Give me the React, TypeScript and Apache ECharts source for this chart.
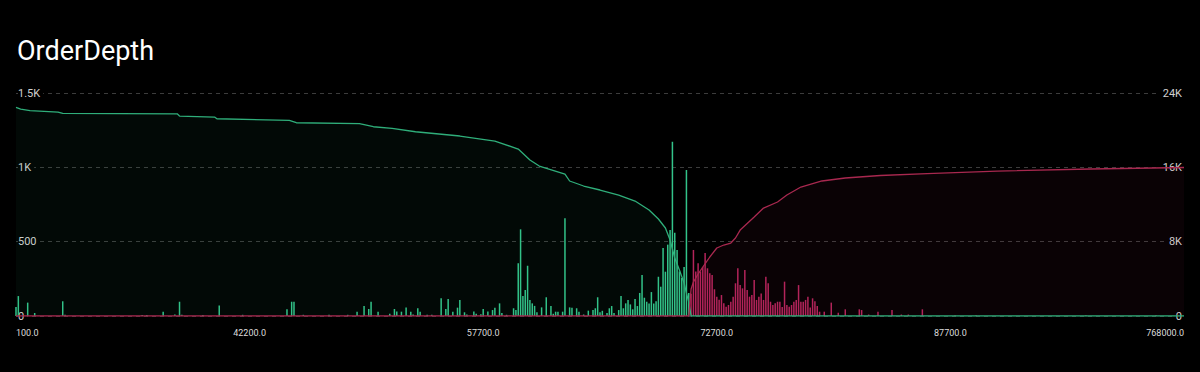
import React, { useEffect, useRef } from "react";
import * as echarts from "echarts";

// Price levels shown as axis ticks (every 100th level)
const tickPrices = [100, 42200, 57700, 72700, 87700, 768000];
const levelsPerTick = 100;

// Bid volumes: [level index, volume]
const bidBars: [number, number][] = [
  [0, 60], [1, 134], [5, 90], [8, 20], [20, 99], [21, 8], [54, 6], [56, 6], [63, 29], [68, 10],
  [70, 96], [71, 8], [80, 6], [87, 70], [97, 8], [116, 45], [118, 96], [119, 96], [123, 8], [134, 8],
  [142, 8], [146, 29], [149, 67], [151, 47], [152, 96], [155, 29], [160, 15], [162, 47], [163, 30],
  [165, 29], [167, 58], [169, 29], [170, 10], [172, 52], [173, 29], [176, 8], [178, 8], [182, 119],
  [184, 47], [185, 114], [187, 29], [189, 56], [190, 108], [192, 25], [193, 10], [196, 31], [197, 15],
  [199, 12], [200, 47], [202, 31], [204, 40], [205, 56], [207, 85], [208, 20], [210, 8], [213, 52],
  [214, 40], [215, 354], [216, 583], [217, 135], [218, 175], [219, 338], [220, 107], [221, 85],
  [222, 68], [223, 25], [225, 58], [227, 126], [229, 68], [230, 15], [231, 29], [232, 29], [234, 29],
  [235, 657], [237, 58], [238, 56], [240, 52], [241, 29], [243, 10], [245, 36], [247, 40], [248, 52],
  [249, 126], [250, 25], [251, 35], [253, 20], [254, 52], [255, 67], [256, 20], [258, 40], [259, 134],
  [260, 52], [261, 85], [262, 108], [263, 78], [264, 45], [265, 114], [266, 67], [267, 155], [268, 276],
  [269, 123], [270, 96], [271, 84], [272, 161], [273, 84], [274, 100], [275, 264], [276, 197],
  [277, 457], [278, 298], [279, 480], [280, 578], [281, 1172], [282, 560], [283, 444], [284, 300],
  [285, 255], [286, 330], [287, 982], [288, 155],
];

// Ask volumes: [level index, volume]
const askBars: [number, number][] = [
  [289, 150], [290, 444], [291, 300], [292, 354], [293, 300], [294, 330], [295, 423], [296, 321],
  [297, 287], [298, 276], [299, 180], [300, 130], [301, 110], [302, 141], [303, 85], [304, 63],
  [305, 74], [306, 96], [307, 130], [308, 220], [309, 321], [310, 208], [311, 186], [312, 309],
  [313, 175], [314, 130], [315, 141], [316, 242], [317, 108], [318, 130], [319, 152], [320, 108],
  [321, 264], [322, 220], [323, 96], [324, 74], [325, 85], [326, 96], [327, 96], [328, 60],
  [329, 231], [330, 74], [331, 63], [332, 74], [333, 96], [334, 108], [335, 208], [336, 96],
  [337, 96], [338, 108], [339, 130], [340, 58], [341, 119], [342, 100], [343, 68], [344, 29],
  [346, 29], [349, 90], [352, 22], [355, 45], [361, 45], [362, 40], [365, 10], [369, 29], [375, 40],
  [379, 10], [382, 10], [388, 45], [402, 5], [411, 5], [458, 5], [488, 5],
];

// Cumulative bid depth: [level index, cumulative volume]
const bidDepth: [number, number][] = [
  [0, 22460], [2, 22270], [6, 22110], [18, 21950], [20, 21810], [69, 21760], [70, 21520],
  [85, 21410], [86, 21230], [117, 21060], [120, 20800], [147, 20710], [153, 20370], [161, 20200],
  [171, 19830], [190, 19370], [205, 18830], [215, 17970], [220, 16790], [224, 16140], [235, 15280],
  [237, 14530], [243, 13990], [250, 13560], [258, 13020], [265, 12370], [271, 11410], [275, 10440],
  [278, 9470], [280, 8180], [282, 6240], [284, 4950], [286, 3550], [287, 2470], [288, 1500],
  [289, 0], [500, 0],
];

// Cumulative ask depth: [level index, cumulative volume]
const askDepth: [number, number][] = [
  [0, 0], [288, 0], [289, 2900], [290, 3660], [292, 4520], [294, 5270], [297, 6350], [300, 7320],
  [303, 7640], [306, 7850], [308, 8390], [310, 9250], [316, 10650], [320, 11620], [326, 12270],
  [330, 13020], [336, 13880], [345, 14530], [355, 14850], [370, 15120], [390, 15330], [420, 15600],
  [460, 15820], [500, 15980],
];

const categories: string[] = [];
for (let j = 0; j < tickPrices.length - 1; j++) {
  const a = tickPrices[j];
  const b = tickPrices[j + 1];
  for (let s = 0; s < levelsPerTick; s++) {
    categories.push((a + ((b - a) * s) / levelsPerTick).toFixed(1));
  }
}
categories.push(tickPrices[tickPrices.length - 1].toFixed(1));

const kFmt = (v: number) => (v >= 1000 ? `${v / 1000}K` : `${v}`);

export default function App() {
  const ref = useRef<HTMLDivElement>(null);
  useEffect(() => {
    if (!ref.current) return;
    const chart = echarts.init(ref.current, undefined, { renderer: "svg" });
    chart.setOption({
      animation: false,
      backgroundColor: "#000",
      textStyle: { fontFamily: "Roboto" },
      title: {
        text: "OrderDepth",
        left: 12,
        top: 32,
        textStyle: { color: "#ffffff", fontSize: 27, fontWeight: 400, fontFamily: "Roboto" },
      },
      grid: { left: 16, right: 16, top: 93, bottom: 56, containLabel: false },
      xAxis: {
        type: "category",
        data: categories,
        boundaryGap: false,
        axisLine: { show: false },
        axisTick: { show: false },
        splitLine: { show: false },
        axisLabel: {
          interval: levelsPerTick - 1,
          color: "#dcdcdc",
          fontSize: 9,
          margin: 12,
          showMinLabel: true,
          showMaxLabel: true,
          alignMinLabel: "left",
          alignMaxLabel: "right",
        },
      },
      yAxis: [
        {
          type: "value",
          position: "left",
          min: 0,
          max: 1500,
          interval: 500,
          axisLine: { show: false },
          axisTick: { show: false },
          axisLabel: {
            inside: true,
            margin: 2,
            color: "#d0d0d0",
            fontSize: 11,
            formatter: kFmt,
            backgroundColor: "#000",
            padding: [1, 3, 1, 0],
          },
          splitLine: { lineStyle: { color: "#3c3c3c", type: [4, 4], width: 1 } },
        },
        {
          type: "value",
          position: "right",
          min: 0,
          max: 24000,
          interval: 8000,
          axisLine: { show: false },
          axisTick: { show: false },
          axisLabel: {
            inside: true,
            margin: 2,
            color: "#d0d0d0",
            fontSize: 11,
            formatter: kFmt,
            backgroundColor: "#000",
            padding: [1, 0, 1, 3],
          },
          splitLine: { show: false },
        },
      ],
      series: [
        {
          name: "bids",
          type: "bar",
          yAxisIndex: 0,
          data: bidBars,
          barWidth: 1.5,
          barGap: "-100%",
          itemStyle: { color: "#33c48a" },
        },
        {
          name: "asks",
          type: "bar",
          yAxisIndex: 0,
          data: askBars,
          barWidth: 1.5,
          barGap: "-100%",
          itemStyle: { color: "#b3245a" },
        },
        {
          name: "bidDepth",
          type: "line",
          yAxisIndex: 1,
          data: bidDepth,
          showSymbol: false,
          symbol: "none",
          lineStyle: { color: "#2fae7a", width: 1.3 },
          areaStyle: { color: "rgba(40,170,110,0.08)" },
          z: 3,
        },
        {
          name: "askDepth",
          type: "line",
          yAxisIndex: 1,
          data: askDepth,
          showSymbol: false,
          symbol: "none",
          lineStyle: { color: "#a8284f", width: 1.3 },
          areaStyle: { color: "rgba(190,40,90,0.08)" },
          z: 3,
        },
      ],
    });
    return () => chart.dispose();
  }, []);
  return (
    <div
      ref={ref}
      style={{ position: "fixed", left: 0, top: 0, width: 1200, height: 372, background: "#000" }}
    />
  );
}
